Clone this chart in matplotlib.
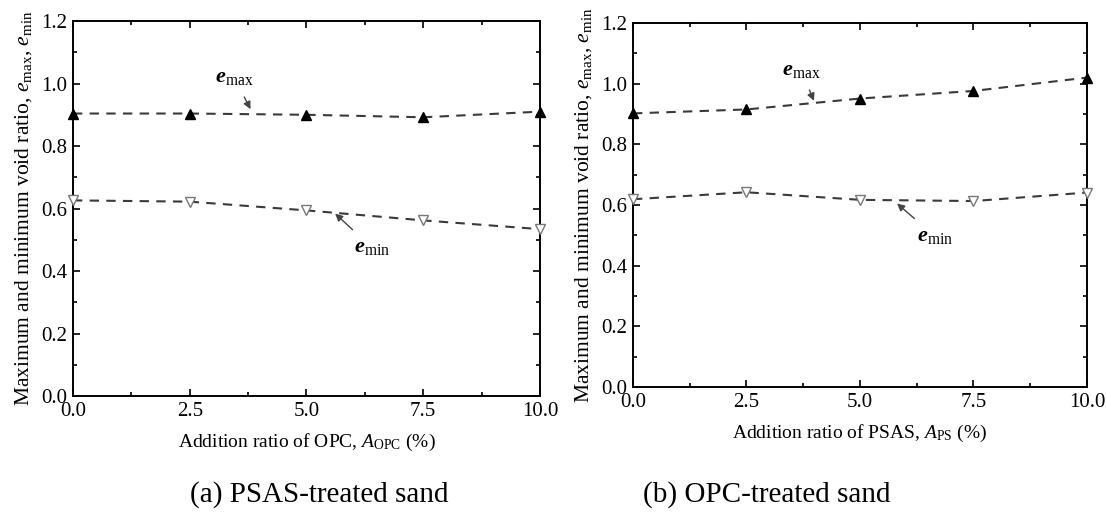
import matplotlib
matplotlib.use('Agg')
import matplotlib.pyplot as plt
from matplotlib.ticker import MultipleLocator

plt.rcParams['font.family'] = 'Liberation Serif'
plt.rcParams['mathtext.fontset'] = 'custom'
plt.rcParams['mathtext.rm'] = 'Liberation Serif'
plt.rcParams['mathtext.it'] = 'Liberation Serif:italic'
plt.rcParams['mathtext.bf'] = 'Liberation Serif:italic:bold'

# addition ratio (%)
ratio = [0.0, 2.5, 5.0, 7.5, 10.0]

# (a) PSAS-treated sand, OPC added
emax_a = [0.904, 0.904, 0.900, 0.892, 0.910]
emin_a = [0.626, 0.622, 0.594, 0.562, 0.534]

# (b) OPC-treated sand, PSAS added
emax_b = [0.902, 0.915, 0.951, 0.976, 1.020]
emin_b = [0.619, 0.642, 0.617, 0.613, 0.641]

ylabel = r'Maximum and minimum void ratio, $e_{\mathrm{max}}$, $e_{\mathrm{min}}$'
xlabels = [r'Addition ratio of OPC, $A_{\mathrm{OPC}}$ (%)',
           r'Addition ratio of PSAS, $A_{\mathrm{PS}}$ (%)']
captions = ['(a) PSAS-treated sand', '(b) OPC-treated sand']

fig = plt.figure(figsize=(11.07, 5.18), dpi=100)
ax1 = fig.add_axes([0.0659, 0.2355, 0.4219, 0.7239])
ax2 = fig.add_axes([0.5718, 0.2529, 0.4101, 0.7027])


def draw_panel(ax, emax, emin, xlabel, max_txt, max_tip, min_txt, min_tip):
    line_kw = dict(color='#3a3a3a', lw=1.5, dashes=(4.5, 3.5), clip_on=False, zorder=2)
    ax.plot(ratio, emax, **line_kw)
    ax.plot(ratio, emin, **line_kw)
    ax.plot(ratio, emax, ls='none', marker='^', ms=7, mfc='black', mec='black',
            clip_on=False, zorder=3)
    ax.plot(ratio, emin, ls='none', marker='v', ms=7.5, mfc='white', mec='#777777',
            mew=1.0, clip_on=False, zorder=3)

    ax.set_xlim(0, 10)
    ax.set_ylim(0, 1.2)
    ax.xaxis.set_major_locator(MultipleLocator(2.5))
    ax.xaxis.set_minor_locator(MultipleLocator(1.25))
    ax.yaxis.set_major_locator(MultipleLocator(0.2))
    ax.yaxis.set_minor_locator(MultipleLocator(0.1))
    ax.xaxis.set_major_formatter(matplotlib.ticker.FormatStrFormatter('%.1f'))
    ax.yaxis.set_major_formatter(matplotlib.ticker.FormatStrFormatter('%.1f'))
    ax.tick_params(which='both', direction='in', top=True, right=True,
                   labelsize=15, width=1.2, pad=4)
    ax.tick_params(which='major', length=5)
    ax.tick_params(which='minor', length=3)
    for sp in ax.spines.values():
        sp.set_linewidth(1.4)

    ax.set_ylabel(ylabel, fontsize=15.5, labelpad=5)
    ax.set_xlabel(xlabel, fontsize=14, labelpad=8)

    arrow = dict(arrowstyle='-|>', color='#444444', lw=1.0, mutation_scale=11,
                 shrinkA=6)
    ax.annotate(r'$\mathbf{e}_{\mathrm{max}}$', xy=max_tip, xytext=max_txt,
                fontsize=16, ha='center', va='center', arrowprops=arrow)
    ax.annotate(r'$\mathbf{e}_{\mathrm{min}}$', xy=min_tip, xytext=min_txt,
                fontsize=16, ha='center', va='center', arrowprops=arrow)


draw_panel(ax1, emax_a, emin_a, xlabels[0],
           (3.45, 1.02), (3.83, 0.91), (6.4, 0.475), (5.57, 0.59))
draw_panel(ax2, emax_b, emin_b, xlabels[1],
           (3.7, 1.045), (4.01, 0.935), (6.65, 0.497), (5.77, 0.611))

fig.text(0.288, 0.045, captions[0], fontsize=21, ha='center', va='center')
fig.text(0.693, 0.045, captions[1], fontsize=21, ha='center', va='center')

fig.savefig('out.png', dpi=100)
